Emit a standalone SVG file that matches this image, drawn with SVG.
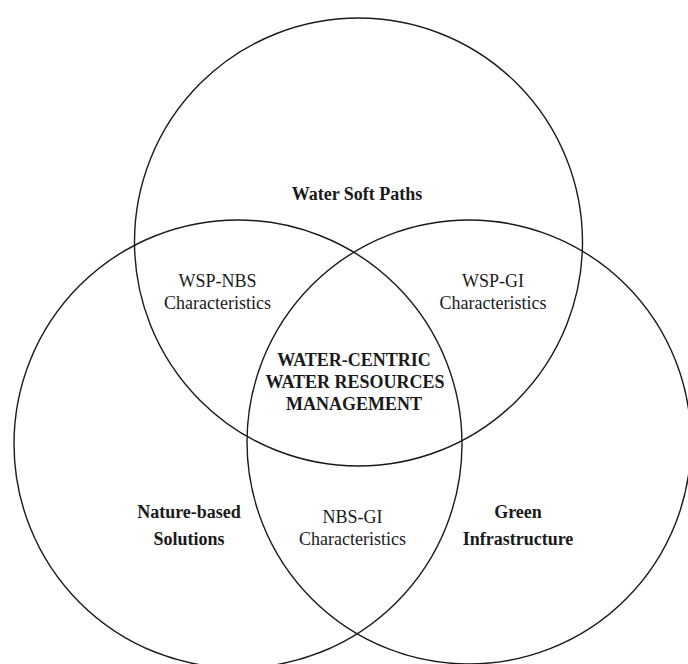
<svg xmlns="http://www.w3.org/2000/svg" width="688" height="664" viewBox="0 0 688 664">
<style>
.c{fill:none;stroke:#1a1a1a;stroke-width:1.4}
text{font-family:"Liberation Serif","Times New Roman",serif;font-size:18px;fill:#1a1a1a;text-anchor:middle}
.b{font-weight:bold}
</style>
<rect width="688" height="664" fill="#fff"/>
<g id="wsp"><circle class="c" cx="358.5" cy="242" r="224"/><text class="b" x="357" y="200">Water Soft Paths</text></g>
<g id="nbs"><circle class="c" cx="238" cy="444" r="224"/><text class="b" x="189" y="518">Nature-based</text><text class="b" x="189" y="545">Solutions</text></g>
<g id="gi"><circle class="c" cx="469" cy="442" r="222"/><text class="b" x="518" y="518">Green</text><text class="b" x="518" y="545">Infrastructure</text></g>
<g id="wsp-nbs"><text x="217.5" y="287">WSP-NBS</text><text x="217.5" y="309">Characteristics</text></g>
<g id="wsp-gi"><text x="493" y="287">WSP-GI</text><text x="493" y="309">Characteristics</text></g>
<g id="nbs-gi"><text x="352.5" y="523">NBS-GI</text><text x="352.5" y="545">Characteristics</text></g>
<g id="center"><text class="b" x="354" y="366">WATER-CENTRIC</text><text class="b" x="355" y="388">WATER RESOURCES</text><text class="b" x="354" y="410">MANAGEMENT</text></g>
<g id="connectors"></g>
</svg>
